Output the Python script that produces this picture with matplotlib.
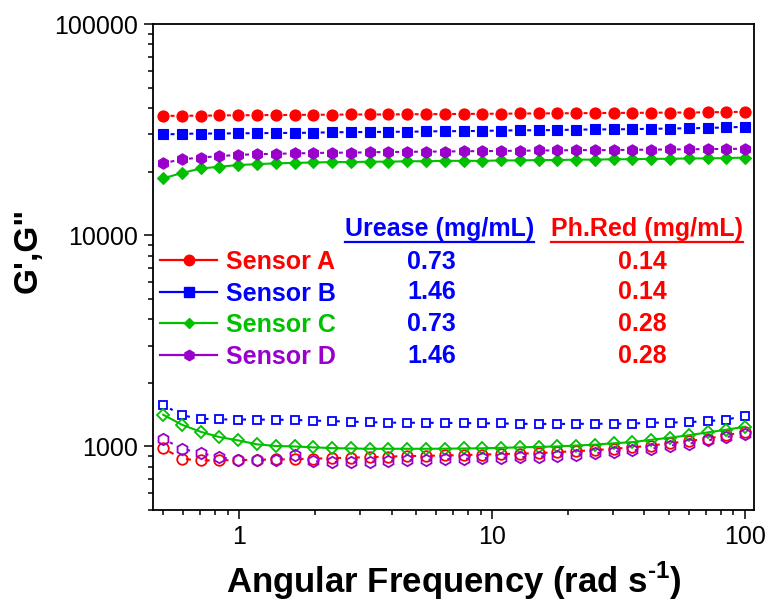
import numpy as np
import matplotlib
matplotlib.use("Agg")
import matplotlib.pyplot as plt
from matplotlib.lines import Line2D
from matplotlib import ticker

plt.rcParams['font.family'] = ['Liberation Sans', 'DejaVu Sans']
plt.rcParams['mathtext.fontset'] = 'custom'
plt.rcParams['mathtext.rm'] = 'Liberation Sans:bold'
plt.rcParams['mathtext.bf'] = 'Liberation Sans:bold'
plt.rcParams['lines.scale_dashes'] = False

# Angular frequency sweep (rad/s)
freq = [0.5, 0.5932, 0.7038, 0.8350, 0.9906, 1.1753, 1.3944, 1.6543, 1.9626, 2.3285,
        2.7625, 3.2774, 3.8884, 4.6132, 5.4731, 6.4933, 7.7036, 9.1396, 10.843, 12.864,
        15.262, 18.107, 21.482, 25.487, 30.237, 35.874, 42.561, 50.494, 59.906, 71.073,
        84.320, 100.0]

# Storage modulus G' (Pa)
g1_A = [36700, 36800, 36800, 36900, 37000, 37000, 37100, 37100, 37200, 37200, 37300, 37300,
        37300, 37400, 37400, 37500, 37500, 37600, 37600, 37700, 37700, 37800, 37800, 37900,
        37900, 38000, 38000, 38100, 38100, 38200, 38300, 38400]
g1_B = [30000, 30200, 30300, 30300, 30400, 30400, 30500, 30500, 30600, 30700, 30800, 30800,
        30900, 30900, 31000, 31100, 31100, 31200, 31300, 31400, 31400, 31500, 31600, 31700,
        31700, 31800, 31900, 32000, 32100, 32200, 32400, 32600]
g1_C = [18600, 19700, 20700, 21100, 21500, 21700, 21900, 22000, 22100, 22200, 22200, 22300,
        22300, 22400, 22400, 22500, 22500, 22500, 22600, 22600, 22700, 22700, 22800, 22800,
        22900, 22900, 23000, 23000, 23100, 23100, 23200, 23300]
g1_D = [21900, 22900, 23300, 23700, 24000, 24200, 24300, 24400, 24500, 24600, 24600, 24700,
        24800, 24800, 24900, 24900, 25000, 25000, 25100, 25100, 25200, 25200, 25300, 25300,
        25300, 25400, 25400, 25500, 25500, 25600, 25600, 25700]

# Loss modulus G'' (Pa)
g2_A = [982, 874, 858, 860, 862, 865, 868, 870, 875, 880, 885, 890, 895, 900, 903, 906,
        910, 915, 920, 925, 930, 940, 950, 960, 975, 990, 1010, 1035, 1060, 1090, 1130, 1175]
g2_B = [1576, 1403, 1353, 1343, 1341, 1340, 1338, 1335, 1325, 1318, 1310, 1303, 1296, 1295,
        1294, 1293, 1290, 1287, 1285, 1280, 1278, 1278, 1279, 1280, 1281, 1283, 1295, 1297,
        1304, 1318, 1339, 1398]
g2_C = [1413, 1267, 1173, 1107, 1068, 1023, 1005, 1000, 990, 982, 978, 975, 975, 975, 975,
        976, 978, 980, 985, 990, 995, 1000, 1010, 1020, 1035, 1048, 1075, 1100, 1130, 1165,
        1200, 1240]
g2_D = [1088, 975, 930, 890, 860, 858, 858, 906, 850, 845, 845, 848, 855, 860, 865, 870,
        875, 880, 885, 890, 895, 905, 915, 930, 945, 958, 975, 1010, 1030, 1068, 1107, 1150]

sensor_names = ["Sensor A", "Sensor B", "Sensor C", "Sensor D"]
urease_conc = ["0.73", "1.46", "0.73", "1.46"]
phred_conc = ["0.14", "0.14", "0.28", "0.28"]
x_tick_vals = [1, 10, 100]
x_tick_labels = ["1", "10", "100"]
y_tick_vals = [1000, 10000, 100000]
y_tick_labels = ["1000", "10000", "100000"]

RED, BLUE, GREEN, PURPLE = "#FF0000", "#0000FF", "#00C000", "#9900CC"

fig = plt.figure(figsize=(7.69, 6.05), dpi=100)
ax = fig.add_axes([0.1986, 0.1570, 0.7823, 0.8033])
ax.set_xscale('log')
ax.set_yscale('log')
xlim = (0.4546, 108.8)
ax.set_xlim(*xlim)
ax.set_ylim(500, 100000)

# spacing between neighbouring points on screen, used to centre a short dash between symbols
ax_w_px = fig.get_figwidth() * fig.dpi * ax.get_position().width
step_dec = np.log10(freq[1]) - np.log10(freq[0])
period_pt = step_dec / (np.log10(xlim[1]) - np.log10(xlim[0])) * ax_w_px * 72.0 / fig.dpi


def gap_style(on_px):
    on = on_px * 72.0 / fig.dpi
    return (period_pt / 2 + on / 2, (on, period_pt - on))


series = [
    # data, colour, marker, size, filled, line style
    (g1_A, RED, 'o', 8.0, True, gap_style(4)),
    (g1_B, BLUE, 's', 6.8, True, gap_style(4)),
    (g1_C, GREEN, 'D', 6.2, True, '-'),
    (g1_D, PURPLE, 'h', 8.2, True, gap_style(4)),
    (g2_A, RED, 'o', 7.6, False, gap_style(5)),
    (g2_B, BLUE, 's', 6.2, False, gap_style(3)),
    (g2_C, GREEN, 'D', 6.4, False, '-'),
    (g2_D, PURPLE, 'h', 8.2, False, gap_style(3)),
]

for k, (vals, col, mk, ms, filled, ls) in enumerate(series):
    ax.plot(freq, vals, color=col, lw=1.5, linestyle=ls, marker=mk, markersize=ms,
            markerfacecolor=col if filled else 'none', markeredgecolor=col,
            markeredgewidth=1.3 if not filled else 0.8, zorder=3 + k * 0.1)

ax.set_xticks(x_tick_vals)
ax.set_xticklabels(x_tick_labels)
ax.set_yticks(y_tick_vals)
ax.set_yticklabels(y_tick_labels)
ax.xaxis.set_minor_locator(ticker.LogLocator(base=10, subs=np.arange(2, 10), numticks=20))
ax.yaxis.set_minor_locator(ticker.LogLocator(base=10, subs=np.arange(2, 10), numticks=20))
ax.xaxis.set_minor_formatter(ticker.NullFormatter())
ax.yaxis.set_minor_formatter(ticker.NullFormatter())
ax.tick_params(which='both', direction='out', top=False, right=False, labelsize=18,
               width=1.1, pad=4)
ax.tick_params(which='major', length=6.5)
ax.tick_params(which='minor', length=3.6)
for sp in ax.spines.values():
    sp.set_linewidth(1.3)

ax.set_xlabel(r"Angular Frequency (rad s$^{\text{-1}}$)", fontsize=25,
              fontweight='bold', labelpad=8)
ax.set_ylabel("G',G\"", fontsize=24, fontweight='bold')
ax.yaxis.set_label_coords(-0.182, 0.535)

# legend with sensors
handles = [Line2D([], [], color=c, marker=m, markersize=s, lw=1.6)
           for c, m, s in [(RED, 'o', 7.5), (BLUE, 's', 6.5), (GREEN, 'D', 5.5), (PURPLE, 'h', 7.5)]]
leg = ax.legend(handles, sensor_names, loc='upper left', bbox_to_anchor=(0.012, 0.535),
                frameon=False, handlelength=2.3, handletextpad=0.35,
                labelspacing=0.3, borderpad=0, borderaxespad=0,
                prop={'weight': 'bold', 'size': 18})
for txt, col in zip(leg.get_texts(), [RED, BLUE, GREEN, PURPLE]):
    txt.set_color(col)

# concentration table
row_y = [0.5113, 0.4476, 0.3826, 0.3170]
h1 = ax.text(0.3196, 0.5792, "Urease (mg/mL)", transform=ax.transAxes, color=BLUE,
             fontsize=18, fontweight='bold', ha='left', va='center')
h2 = ax.text(0.6614, 0.5792, "Ph.Red (mg/mL)", transform=ax.transAxes, color=RED,
             fontsize=18, fontweight='bold', ha='left', va='center')
for y, u, p in zip(row_y, urease_conc, phred_conc):
    ax.text(0.4632, y, u, transform=ax.transAxes, color=BLUE, fontsize=18,
            fontweight='bold', ha='center', va='center')
    ax.text(0.8142, y, p, transform=ax.transAxes, color=RED, fontsize=18,
            fontweight='bold', ha='center', va='center')

# underline the column headers
fig.canvas.draw()
inv = fig.transFigure.inverted()
for h, col in [(h1, BLUE), (h2, RED)]:
    bb = h.get_window_extent()
    (x0, y0), (x1, _) = inv.transform([(bb.x0, bb.y0 - 1.5), (bb.x1, bb.y0)])
    fig.add_artist(Line2D([x0, x1], [y0, y0], color=col, lw=1.6, transform=fig.transFigure))

fig.savefig("out.png", dpi=100)
